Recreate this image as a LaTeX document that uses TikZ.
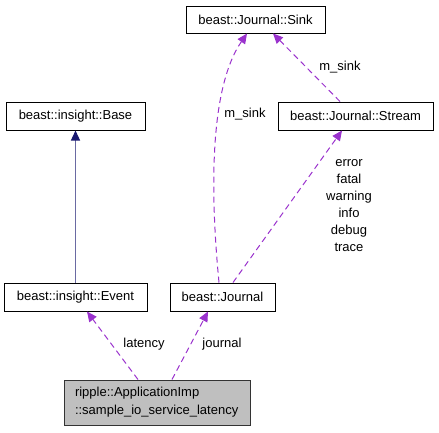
\documentclass[tikz,border=0pt]{standalone}
\usepackage{fontspec}
\setmainfont{Liberation Sans}
\usetikzlibrary{arrows.meta,calc}
\definecolor{edgepurple}{HTML}{9A32CD}
\definecolor{edgenavy}{HTML}{191970}
\definecolor{mainfill}{HTML}{BFBFBF}
\tikzset{
  box/.style={draw=black,line width=1pt,fill=white,inner sep=0pt,font=\fontsize{13}{16}\selectfont},
  lbl/.style={inner sep=0pt,font=\fontsize{13}{17}\selectfont,align=center},
  usesedge/.style={draw=edgepurple,line width=1pt,dash pattern=on 6pt off 4pt,-{Triangle[length=10pt,width=9pt,fill=edgepurple]}},
  inhedge/.style={draw=edgenavy!65,line width=1.3pt,-{Triangle[length=10pt,width=9pt,fill=edgenavy,color=edgenavy]}}
}
\begin{document}
\begin{tikzpicture}[x=1pt,y=-1pt]
\useasboundingbox (0,0) rectangle (439,432);
\node[box,minimum width=139pt,minimum height=27pt] (sink) at (255.5,19.5) {beast::Journal::Sink};
\node[box,minimum width=139pt,minimum height=28pt] (base) at (75.5,116) {beast::insight::Base};
\node[box,minimum width=155pt,minimum height=28pt] (stream) at (355.5,116) {beast::Journal::Stream};
\node[box,minimum width=143pt,minimum height=28pt] (event) at (75.5,297) {beast::insight::Event};
\node[box,minimum width=105pt,minimum height=28pt] (journal) at (222.5,297) {beast::Journal};
\node[box,fill=mainfill,draw=black!80,minimum width=186pt,minimum height=45pt,text width=164pt,align=left,font=\fontsize{13}{18}\selectfont] (main) at (157,402.5) {ripple::ApplicationImp\\::sample\_io\_service\_latency};

\draw[inhedge] (event.north) -- (base.south);
\draw[usesedge] ([xshift=-19pt]main.north) -- ([xshift=11.5pt]event.south);
\draw[usesedge] ([xshift=15pt]main.north) -- ([xshift=-14.5pt]journal.south);
\draw[usesedge] ([xshift=-3.5pt]journal.north) .. controls (211,200) and (208,90) .. ([xshift=-8.5pt]sink.south);
\draw[usesedge] ([xshift=-15.5pt]stream.north) -- ([xshift=17.5pt]sink.south);
\draw[usesedge] ([xshift=10.5pt]journal.north) -- ([xshift=-13.5pt]stream.south);

\node[lbl] (l1) at (245,114) {m\_sink};
\node[lbl] (l2) at (340,67) {m\_sink};
\node[lbl] (l3) at (144,344) {latency};
\node[lbl] (l4) at (222,344) {journal};
\node[lbl] (l5) at (349,205.5) {error\\fatal\\warning\\info\\debug\\trace};
\end{tikzpicture}
\end{document}
